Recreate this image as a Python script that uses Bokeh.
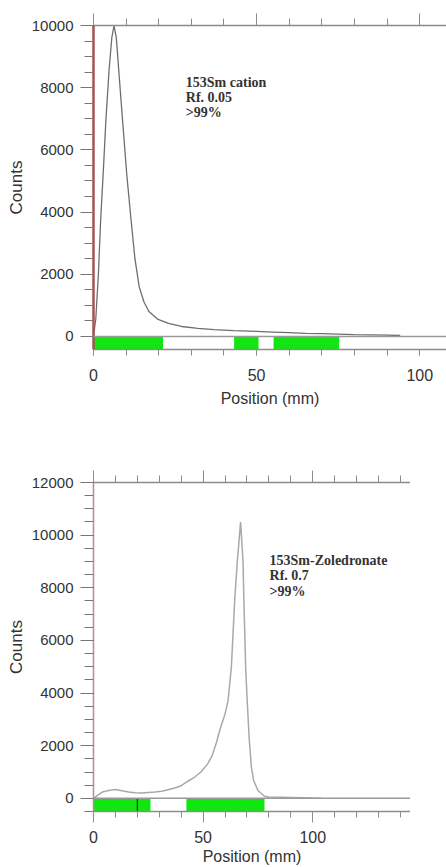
from bokeh.plotting import figure
from bokeh.layouts import column
from bokeh.models import (Range1d, LinearAxis, SingleIntervalTicker, Span,
                          Label, CustomJSTickFormatter)
from bokeh.embed import file_html
from bokeh.resources import INLINE

# ---------------- data: panel 1 (153Sm cation) ----------------
pos1 = [0, 0.7, 1.5, 2.2, 3.0, 3.8, 4.8, 5.6, 6.3, 7.0, 8.0, 8.9, 10.2, 11.5,
        12.7, 14.0, 15.5, 17.0, 19.6, 23, 27, 32, 37, 43, 50, 55, 60, 65, 70,
        75, 80, 85, 90, 94]
counts1 = [0, 560, 2000, 3760, 5300, 6960, 8600, 9600, 10000, 9600, 8200,
           6960, 5200, 3760, 2500, 1600, 1100, 800, 560, 420, 320, 260, 220,
           190, 160, 140, 120, 100, 90, 75, 60, 50, 40, 30]
green1_left = [0, 43.1, 55.2]
green1_right = [21.3, 50.6, 75.3]
text1 = ["153Sm cation", "Rf. 0.05", ">99%"]

# ---------------- data: panel 2 (153Sm-Zoledronate) ----------------
pos2 = [0, 2, 4, 7, 10, 13, 16, 19, 22, 25, 28, 31, 34, 37, 40, 43, 46, 49,
        52, 54, 56, 58, 60, 61.4, 62.9, 64.4, 65.6, 67.1, 68.2, 68.6, 69.4,
        70.1, 71, 72, 73, 75, 78, 80, 85, 90, 95, 100, 104]
counts2 = [0, 120, 240, 300, 340, 290, 240, 210, 200, 220, 240, 270, 330,
           390, 480, 650, 800, 1000, 1300, 1600, 2100, 2700, 3200, 3720, 5000,
           7520, 9000, 10500, 9000, 7520, 5000, 3720, 2300, 1200, 700, 300, 80,
           50, 40, 30, 20, 10, 5]
green2_left = [0, 42.4]
green2_right = [26, 78]
marks2 = [20]
text2 = ["153Sm-Zoledronate", "Rf. 0.7", ">99%"]

TICK_FONT = "Liberation Sans"
GREEN = "#12e612"
AXIS_GREY = "#8c8c8c"


def style(p, ymin, ymax, xmax, yaxis_color, yaxis_width, x_major_out,
          x_label_standoff, x_axis_label_standoff):
    p.x_range = Range1d(0, xmax)
    p.y_range = Range1d(ymin, ymax)
    p.grid.visible = False
    p.outline_line_color = None
    p.background_fill_color = "white"
    p.border_fill_color = "white"

    # bottom axis
    xa = p.xaxis[0]
    xa.ticker = SingleIntervalTicker(interval=50, num_minor_ticks=5)
    xa.axis_line_color = AXIS_GREY
    xa.axis_line_width = 1.5
    xa.major_tick_line_color = AXIS_GREY
    xa.minor_tick_line_color = AXIS_GREY
    xa.major_tick_in = 0
    xa.minor_tick_in = 0
    xa.major_tick_out = x_major_out
    xa.minor_tick_out = 6
    xa.major_label_standoff = x_label_standoff
    xa.major_label_text_font = TICK_FONT
    xa.major_label_text_font_size = "16px"
    xa.major_label_text_color = "#333333"
    xa.axis_label = "Position (mm)"
    xa.axis_label_text_font = TICK_FONT
    xa.axis_label_text_font_style = "normal"
    xa.axis_label_text_font_size = "16px"
    xa.axis_label_text_color = "#333333"
    xa.axis_label_standoff = x_axis_label_standoff

    # left axis
    ya = p.yaxis[0]
    ya.ticker = SingleIntervalTicker(interval=2000, num_minor_ticks=4)
    ya.axis_line_color = yaxis_color
    ya.axis_line_width = yaxis_width
    ya.major_tick_line_color = "#777777"
    ya.minor_tick_line_color = "#777777"
    ya.major_tick_in = 0
    ya.minor_tick_in = 0
    ya.major_tick_out = 13
    ya.minor_tick_out = 9
    ya.major_label_standoff = 7
    ya.major_label_text_font = TICK_FONT
    ya.major_label_text_font_size = "15px"
    ya.major_label_text_color = "#333333"
    ya.axis_label = "Counts"
    ya.axis_label_text_font = TICK_FONT
    ya.axis_label_text_font_style = "normal"
    ya.axis_label_text_font_size = "17px"
    ya.axis_label_text_color = "#333333"
    ya.axis_label_standoff = 3

    # top axis: ticks only
    top = LinearAxis(ticker=SingleIntervalTicker(interval=50, num_minor_ticks=5),
                     formatter=CustomJSTickFormatter(code="return ''"),
                     axis_line_color=AXIS_GREY, axis_line_width=1.5,
                     major_tick_line_color=AXIS_GREY,
                     minor_tick_line_color=AXIS_GREY,
                     major_tick_in=0, minor_tick_in=0,
                     major_tick_out=12, minor_tick_out=7,
                     major_label_standoff=0,
                     major_label_text_font_size="1px")
    p.add_layout(top, "above")

    p.add_layout(Span(location=0, dimension="width", line_color="#9a9a9a",
                      line_width=1.5))


def add_text(p, x, ys, lines):
    for yy, t in zip(ys, lines):
        p.add_layout(Label(x=x, y=yy, text=t, text_font="Liberation Serif",
                           text_font_style="bold", text_font_size="14px",
                           text_color="#333333", text_baseline="alphabetic"))


# ---------------- panel 1 ----------------
Y1_MIN, Y1_MAX = -420, 10000
p1 = figure(width=446, height=430, output_backend="svg", toolbar_location=None,
            min_border_left=93, min_border_right=0, min_border_top=25,
            min_border_bottom=81)
style(p1, Y1_MIN, Y1_MAX, 108.2, "#a85252", 2.5, 6, 13, 6)
p1.quad(left=green1_left, right=green1_right, top=0, bottom=Y1_MIN,
        fill_color=GREEN, line_color=None)
p1.line(pos1, counts1, line_color="#6e6e6e", line_width=1.3)
add_text(p1, 28.3, [8176, 7696, 7216], text1)

# ---------------- panel 2 ----------------
Y2_MIN, Y2_MAX = -500, 12000
p2 = figure(width=410, height=437, output_backend="svg", toolbar_location=None,
            min_border_left=93, min_border_right=0, min_border_top=52,
            min_border_bottom=56)
style(p2, Y2_MIN, Y2_MAX, 144.6, "#b58d8d", 1.5, 11, 8, 2)
p2.quad(left=green2_left, right=green2_right, top=0, bottom=Y2_MIN,
        fill_color=GREEN, line_color=None)
p2.segment(x0=marks2, y0=[0] * len(marks2), x1=marks2,
           y1=[Y2_MIN] * len(marks2), line_color="#1a3a1a", line_width=1.2)
p2.line(pos2, counts2, line_color="#a8a8a8", line_width=1.5)
add_text(p2, 80.3, [9049, 8479, 7871], text2)

layout = column(p1, p2, spacing=0)
open("out.html", "w").write(file_html(layout, INLINE))
